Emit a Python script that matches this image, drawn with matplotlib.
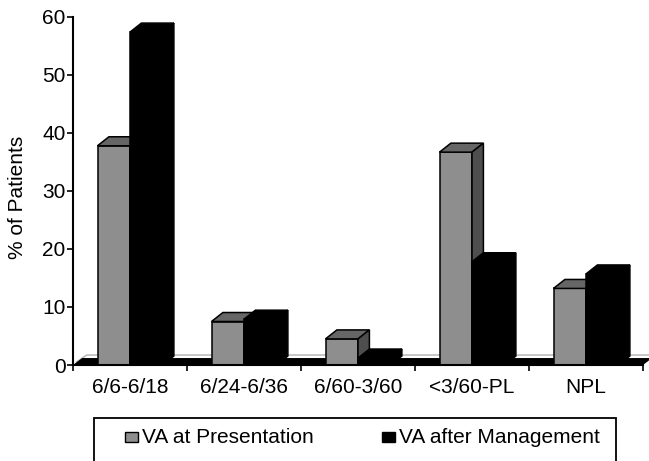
import matplotlib
matplotlib.use("Agg")
import matplotlib.pyplot as plt
from matplotlib.patches import Polygon, Rectangle

# Visual acuity distribution (% of patients)
categories = ["6/6-6/18", "6/24-6/36", "6/60-3/60", "<3/60-PL", "NPL"]
va_presentation = [37.8, 7.5, 4.5, 36.7, 13.2]
va_after_management = [57.4, 7.9, 1.2, 17.8, 15.7]
series_labels = ["VA at Presentation", "VA after Management"]
y_ticks = [0, 10, 20, 30, 40, 50, 60]

W, H = 649, 461
plt.rcParams["font.family"] = ["Liberation Sans", "DejaVu Sans"]
FS = 15

fig = plt.figure(figsize=(W / 100, H / 100), dpi=100)
ax = fig.add_axes([73 / W, (H - 365) / H, 570 / W, 348 / H])
ax.set_xlim(0, len(categories))
ax.set_ylim(0, 60)

bar_w = 0.285      # width of one column front face (category units)
dep_x = 0.10       # depth offset of the 3-D look, x (category units)
dep_y = 1.55       # depth offset, y (value units)

grey_front = "#8e8e8e"
grey_top = "#666666"
grey_side = "#4e4e4e"

# floor slab and back wall edge
floor = Polygon([(0, 0), (len(categories), 0),
                 (len(categories) + 0.08, 1.2), (0.08, 1.2)],
                closed=True, facecolor="black", edgecolor="none",
                clip_on=False, zorder=1)
ax.add_patch(floor)
ax.plot([0.03, 0.12, len(categories) + 0.2], [0.5, 1.72, 1.72],
        color="#b0b0b0", lw=1.0, clip_on=False, zorder=0.9)


def column(x0, v, front, top, side, zo):
    ax.bar(x0, v, width=bar_w, align="edge", color=front,
           edgecolor="black", linewidth=1.1, zorder=zo)
    ax.add_patch(Polygon([(x0, v), (x0 + bar_w, v),
                          (x0 + bar_w + dep_x, v + dep_y), (x0 + dep_x, v + dep_y)],
                         closed=True, facecolor=top, edgecolor="black",
                         linewidth=1.1, zorder=zo, clip_on=False))
    ax.add_patch(Polygon([(x0 + bar_w, 0), (x0 + bar_w + dep_x, dep_y),
                          (x0 + bar_w + dep_x, v + dep_y), (x0 + bar_w, v)],
                         closed=True, facecolor=side, edgecolor="black",
                         linewidth=1.1, zorder=zo, clip_on=False))


for i, (a, b) in enumerate(zip(va_presentation, va_after_management)):
    c = i + 0.5
    column(c - bar_w, a, grey_front, grey_top, grey_side, 2 + i * 2)
    column(c, b, "black", "black", "black", 3 + i * 2)

# axes styling
for s in ("top", "right"):
    ax.spines[s].set_visible(False)
for s in ("left", "bottom"):
    ax.spines[s].set_linewidth(1.5)
    ax.spines[s].set_zorder(20)
ax.set_yticks(y_ticks)
ax.tick_params(axis="y", direction="out", length=4.3, width=1.2,
               pad=1, labelsize=FS)
ax.set_xticks(range(len(categories) + 1))
ax.set_xticklabels([])
ax.tick_params(axis="x", which="major", direction="out", length=4,
               width=1.2)
ax.set_xticks([i + 0.5 for i in range(len(categories))], minor=True)
ax.set_xticklabels(categories, minor=True)
ax.tick_params(axis="x", which="minor", length=0, pad=9, labelsize=FS)

fig.text(18 / W, 1 - 197 / H, "% of Patients", rotation=90,
         ha="center", va="center", fontsize=FS)

# legend box (runs past the bottom edge)
fig.add_artist(Rectangle((94 / W, (H - 490) / H), (616 - 94) / W, (490 - 417.5) / H,
                         transform=fig.transFigure, fill=False,
                         edgecolor="black", linewidth=1.3, clip_on=False))
keys = [(125, grey_front, series_labels[0]), (382, "black", series_labels[1])]
for kx, col, lab in keys:
    fig.add_artist(Rectangle((kx / W, (H - 442) / H), 13 / W, 10 / H,
                             transform=fig.transFigure, facecolor=col,
                             edgecolor="black", linewidth=1.0))
    fig.text((kx + 17) / W, 1 - 437 / H, lab, ha="left", va="center",
             fontsize=FS)

fig.savefig("out.png", dpi=100)
